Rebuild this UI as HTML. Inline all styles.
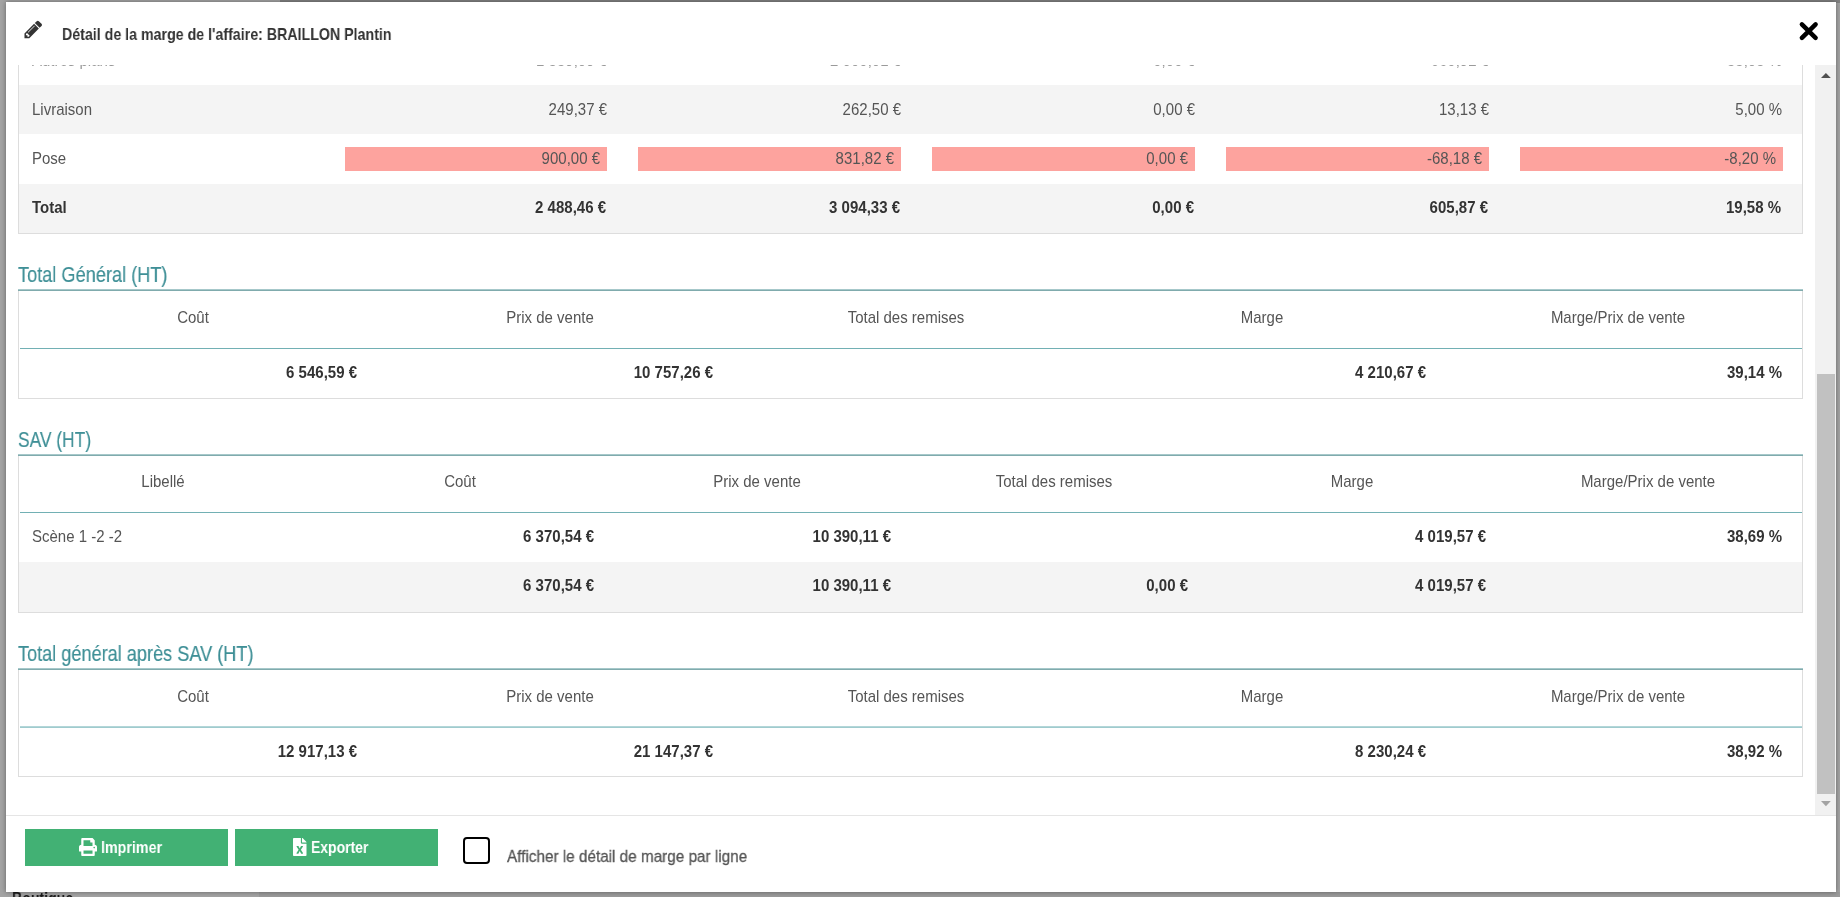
<!DOCTYPE html>
<html><head><meta charset="utf-8"><title>Détail de la marge</title>
<style>
html,body{margin:0;padding:0;}
body{width:1840px;height:897px;overflow:hidden;position:relative;background:#a4a4a4;font-family:'Liberation Sans',sans-serif;}
.t{position:absolute;white-space:nowrap;will-change:transform;}
.r{position:absolute;}
#modal{position:absolute;left:6px;top:2px;width:1830px;height:890px;background:#fff;box-shadow:0 0 5px rgba(0,0,0,.4);overflow:hidden;}
#page{position:absolute;left:-6px;top:-2px;width:1840px;height:897px;}
#scroll{position:absolute;left:0;top:65px;width:1840px;height:750px;overflow:hidden;}
#sc{position:absolute;left:0;top:-65px;width:1840px;height:897px;}
</style></head><body>

<div class="r" style="left:280px;top:0px;width:1560px;height:3px;background:#828282;"></div>
<div class="r" style="left:259px;top:892px;width:1581px;height:5px;background:#9b9b9b;"></div>
<div class="t" style="left:12px;top:889px;font:bold 17px/20px 'Liberation Sans',sans-serif;color:#1a1a1a;transform:scaleX(0.83);transform-origin:left top;">Boutique</div>
<div id="modal"><div id="page">
<svg style="position:absolute;left:22.5px;top:19.3px" width="20.7" height="20.7" viewBox="0 0 1792 1792"><path fill="#333" d="M491 1536l91-91-235-235-91 91v107h128v128h107zm523-928q0-22-22-22-10 0-17 7l-542 542q-7 7-7 17 0 22 22 22 10 0 17-7l542-542q7-7 7-17zm-54-192l416 416-832 832h-416v-416zm683 96q0 53-37 90l-166 166-416-416 166-165q36-38 90-38 53 0 91 38l235 234q37 39 37 91z"/></svg>
<div class="t" style="left:62px;top:23px;font-size:17px;line-height:23px;font-weight:bold;color:#333;transform:scaleX(0.836);transform-origin:left top;">Détail de la marge de l'affaire: BRAILLON Plantin</div>
<svg style="position:absolute;left:1790px;top:15px" width="36" height="34" viewBox="1790 15 36 34"><path d="M1801.9 24.3 L1815.6 37.9 M1815.6 24.3 L1801.9 37.9" stroke="#000" stroke-width="4.5" stroke-linecap="round" fill="none"/></svg>
<div id="scroll"><div id="sc">
<div class="r" style="left:19px;top:85px;width:1783px;height:49px;background:#f4f4f4;"></div>
<div class="r" style="left:19px;top:184px;width:1783px;height:49px;background:#f4f4f4;"></div>
<div class="r" style="left:18px;top:0px;width:1px;height:234px;background:#dddddd;"></div>
<div class="r" style="left:1802px;top:0px;width:1px;height:234px;background:#dddddd;"></div>
<div class="r" style="left:18px;top:233px;width:1785px;height:1px;background:#dddddd;"></div>
<div class="t" style="left:32px;top:51px;font-size:15px;line-height:20px;font-weight:normal;color:#9a9a9a;transform:scaleY(1.08);transform-origin:0 15px;">Autres plans</div>
<div class="t" style="left:7px;width:600px;text-align:right;top:51px;font-size:15px;line-height:20px;font-weight:normal;color:#9a9a9a;transform:scaleY(1.08);transform-origin:0 15px;">1 339,09 €</div>
<div class="t" style="left:301px;width:600px;text-align:right;top:51px;font-size:15px;line-height:20px;font-weight:normal;color:#9a9a9a;transform:scaleY(1.08);transform-origin:0 15px;">2 000,01 €</div>
<div class="t" style="left:595px;width:600px;text-align:right;top:51px;font-size:15px;line-height:20px;font-weight:normal;color:#9a9a9a;transform:scaleY(1.08);transform-origin:0 15px;">0,00 €</div>
<div class="t" style="left:889px;width:600px;text-align:right;top:51px;font-size:15px;line-height:20px;font-weight:normal;color:#9a9a9a;transform:scaleY(1.08);transform-origin:0 15px;">660,92 €</div>
<div class="t" style="left:1182px;width:600px;text-align:right;top:51px;font-size:15px;line-height:20px;font-weight:normal;color:#9a9a9a;transform:scaleY(1.08);transform-origin:0 15px;">33,05 %</div>
<div class="t" style="left:32px;top:100px;font-size:15px;line-height:20px;font-weight:normal;color:#555;transform:scaleY(1.08);transform-origin:0 15px;">Livraison</div>
<div class="t" style="left:7px;width:600px;text-align:right;top:100px;font-size:15px;line-height:20px;font-weight:normal;color:#555;transform:scaleY(1.08);transform-origin:0 15px;">249,37 €</div>
<div class="t" style="left:301px;width:600px;text-align:right;top:100px;font-size:15px;line-height:20px;font-weight:normal;color:#555;transform:scaleY(1.08);transform-origin:0 15px;">262,50 €</div>
<div class="t" style="left:595px;width:600px;text-align:right;top:100px;font-size:15px;line-height:20px;font-weight:normal;color:#555;transform:scaleY(1.08);transform-origin:0 15px;">0,00 €</div>
<div class="t" style="left:889px;width:600px;text-align:right;top:100px;font-size:15px;line-height:20px;font-weight:normal;color:#555;transform:scaleY(1.08);transform-origin:0 15px;">13,13 €</div>
<div class="t" style="left:1182px;width:600px;text-align:right;top:100px;font-size:15px;line-height:20px;font-weight:normal;color:#555;transform:scaleY(1.08);transform-origin:0 15px;">5,00 %</div>
<div class="t" style="left:32px;top:149px;font-size:15px;line-height:20px;font-weight:normal;color:#555;transform:scaleY(1.08);transform-origin:0 15px;">Pose</div>
<div class="r" style="left:345px;top:147px;width:262px;height:24px;background:#fda39e;"></div>
<div class="t" style="left:0px;width:600px;text-align:right;top:149px;font-size:15px;line-height:20px;font-weight:normal;color:#555;transform:scaleY(1.08);transform-origin:0 15px;">900,00 €</div>
<div class="r" style="left:638px;top:147px;width:263px;height:24px;background:#fda39e;"></div>
<div class="t" style="left:294px;width:600px;text-align:right;top:149px;font-size:15px;line-height:20px;font-weight:normal;color:#555;transform:scaleY(1.08);transform-origin:0 15px;">831,82 €</div>
<div class="r" style="left:932px;top:147px;width:263px;height:24px;background:#fda39e;"></div>
<div class="t" style="left:588px;width:600px;text-align:right;top:149px;font-size:15px;line-height:20px;font-weight:normal;color:#555;transform:scaleY(1.08);transform-origin:0 15px;">0,00 €</div>
<div class="r" style="left:1226px;top:147px;width:263px;height:24px;background:#fda39e;"></div>
<div class="t" style="left:882px;width:600px;text-align:right;top:149px;font-size:15px;line-height:20px;font-weight:normal;color:#555;transform:scaleY(1.08);transform-origin:0 15px;">-68,18 €</div>
<div class="r" style="left:1520px;top:147px;width:263px;height:24px;background:#fda39e;"></div>
<div class="t" style="left:1176px;width:600px;text-align:right;top:149px;font-size:15px;line-height:20px;font-weight:normal;color:#555;transform:scaleY(1.08);transform-origin:0 15px;">-8,20 %</div>
<div class="t" style="left:32px;top:198px;font-size:15px;line-height:20px;font-weight:bold;color:#333;transform:scaleY(1.08);transform-origin:0 15px;">Total</div>
<div class="t" style="left:6px;width:600px;text-align:right;top:198px;font-size:15px;line-height:20px;font-weight:bold;color:#333;transform:scaleY(1.08);transform-origin:0 15px;">2 488,46 €</div>
<div class="t" style="left:300px;width:600px;text-align:right;top:198px;font-size:15px;line-height:20px;font-weight:bold;color:#333;transform:scaleY(1.08);transform-origin:0 15px;">3 094,33 €</div>
<div class="t" style="left:594px;width:600px;text-align:right;top:198px;font-size:15px;line-height:20px;font-weight:bold;color:#333;transform:scaleY(1.08);transform-origin:0 15px;">0,00 €</div>
<div class="t" style="left:888px;width:600px;text-align:right;top:198px;font-size:15px;line-height:20px;font-weight:bold;color:#333;transform:scaleY(1.08);transform-origin:0 15px;">605,87 €</div>
<div class="t" style="left:1181px;width:600px;text-align:right;top:198px;font-size:15px;line-height:20px;font-weight:bold;color:#333;transform:scaleY(1.08);transform-origin:0 15px;">19,58 %</div>
<div class="t" style="left:18px;top:260px;font-size:22px;line-height:29px;font-weight:normal;color:#3e8f96;transform:scaleX(0.826);transform-origin:left top;-webkit-text-stroke:0.2px #3e8f96;">Total Général (HT)</div>
<div class="r" style="left:18px;top:289px;width:1785px;height:1px;background:#a6c8ca;"></div>
<div class="r" style="left:18px;top:290px;width:1785px;height:1px;background:#80abad;"></div>
<div class="r" style="left:18px;top:291px;width:1px;height:108px;background:#dddddd;"></div>
<div class="r" style="left:1802px;top:291px;width:1px;height:108px;background:#dddddd;"></div>
<div class="r" style="left:18px;top:398px;width:1785px;height:1px;background:#dddddd;"></div>
<div class="r" style="left:20px;top:348px;width:1782px;height:1px;background:#72b0b4;"></div>
<div class="t" style="left:-106.80000000000001px;width:600px;text-align:center;top:308px;font-size:15px;line-height:20px;font-weight:normal;color:#555;transform:scaleY(1.08);transform-origin:0 15px;">Coût</div>
<div class="t" style="left:249.5px;width:600px;text-align:center;top:308px;font-size:15px;line-height:20px;font-weight:normal;color:#555;transform:scaleY(1.08);transform-origin:0 15px;">Prix de vente</div>
<div class="t" style="left:606.0px;width:600px;text-align:center;top:308px;font-size:15px;line-height:20px;font-weight:normal;color:#555;transform:scaleY(1.08);transform-origin:0 15px;">Total des remises</div>
<div class="t" style="left:962.0px;width:600px;text-align:center;top:308px;font-size:15px;line-height:20px;font-weight:normal;color:#555;transform:scaleY(1.08);transform-origin:0 15px;">Marge</div>
<div class="t" style="left:1318.0px;width:600px;text-align:center;top:308px;font-size:15px;line-height:20px;font-weight:normal;color:#555;transform:scaleY(1.08);transform-origin:0 15px;">Marge/Prix de vente</div>
<div class="t" style="left:-243px;width:600px;text-align:right;top:363px;font-size:15px;line-height:20px;font-weight:bold;color:#333;transform:scaleY(1.08);transform-origin:0 15px;">6 546,59 €</div>
<div class="t" style="left:113px;width:600px;text-align:right;top:363px;font-size:15px;line-height:20px;font-weight:bold;color:#333;transform:scaleY(1.08);transform-origin:0 15px;">10 757,26 €</div>
<div class="t" style="left:826px;width:600px;text-align:right;top:363px;font-size:15px;line-height:20px;font-weight:bold;color:#333;transform:scaleY(1.08);transform-origin:0 15px;">4 210,67 €</div>
<div class="t" style="left:1182px;width:600px;text-align:right;top:363px;font-size:15px;line-height:20px;font-weight:bold;color:#333;transform:scaleY(1.08);transform-origin:0 15px;">39,14 %</div>
<div class="t" style="left:18px;top:425px;font-size:22px;line-height:29px;font-weight:normal;color:#3e8f96;transform:scaleX(0.79);transform-origin:left top;-webkit-text-stroke:0.2px #3e8f96;">SAV (HT)</div>
<div class="r" style="left:18px;top:454px;width:1785px;height:1px;background:#a6c8ca;"></div>
<div class="r" style="left:18px;top:455px;width:1785px;height:1px;background:#80abad;"></div>
<div class="r" style="left:18px;top:456px;width:1px;height:157px;background:#dddddd;"></div>
<div class="r" style="left:1802px;top:456px;width:1px;height:157px;background:#dddddd;"></div>
<div class="r" style="left:18px;top:612px;width:1785px;height:1px;background:#dddddd;"></div>
<div class="r" style="left:20px;top:512px;width:1782px;height:1px;background:#72b0b4;"></div>
<div class="t" style="left:-136.75px;width:600px;text-align:center;top:472px;font-size:15px;line-height:20px;font-weight:normal;color:#555;transform:scaleY(1.08);transform-origin:0 15px;">Libellé</div>
<div class="t" style="left:160.25px;width:600px;text-align:center;top:472px;font-size:15px;line-height:20px;font-weight:normal;color:#555;transform:scaleY(1.08);transform-origin:0 15px;">Coût</div>
<div class="t" style="left:457.25px;width:600px;text-align:center;top:472px;font-size:15px;line-height:20px;font-weight:normal;color:#555;transform:scaleY(1.08);transform-origin:0 15px;">Prix de vente</div>
<div class="t" style="left:754.3px;width:600px;text-align:center;top:472px;font-size:15px;line-height:20px;font-weight:normal;color:#555;transform:scaleY(1.08);transform-origin:0 15px;">Total des remises</div>
<div class="t" style="left:1051.5px;width:600px;text-align:center;top:472px;font-size:15px;line-height:20px;font-weight:normal;color:#555;transform:scaleY(1.08);transform-origin:0 15px;">Marge</div>
<div class="t" style="left:1348.4px;width:600px;text-align:center;top:472px;font-size:15px;line-height:20px;font-weight:normal;color:#555;transform:scaleY(1.08);transform-origin:0 15px;">Marge/Prix de vente</div>
<div class="t" style="left:32px;top:527px;font-size:15px;line-height:20px;font-weight:normal;color:#555;transform:scaleY(1.08);transform-origin:0 15px;">Scène 1 -2 -2</div>
<div class="t" style="left:-6px;width:600px;text-align:right;top:527px;font-size:15px;line-height:20px;font-weight:bold;color:#333;transform:scaleY(1.08);transform-origin:0 15px;">6 370,54 €</div>
<div class="t" style="left:291px;width:600px;text-align:right;top:527px;font-size:15px;line-height:20px;font-weight:bold;color:#333;transform:scaleY(1.08);transform-origin:0 15px;">10 390,11 €</div>
<div class="t" style="left:885.5px;width:600px;text-align:right;top:527px;font-size:15px;line-height:20px;font-weight:bold;color:#333;transform:scaleY(1.08);transform-origin:0 15px;">4 019,57 €</div>
<div class="t" style="left:1182px;width:600px;text-align:right;top:527px;font-size:15px;line-height:20px;font-weight:bold;color:#333;transform:scaleY(1.08);transform-origin:0 15px;">38,69 %</div>
<div class="r" style="left:19px;top:562px;width:1783px;height:50px;background:#f4f4f4;"></div>
<div class="t" style="left:-6px;width:600px;text-align:right;top:576px;font-size:15px;line-height:20px;font-weight:bold;color:#333;transform:scaleY(1.08);transform-origin:0 15px;">6 370,54 €</div>
<div class="t" style="left:291px;width:600px;text-align:right;top:576px;font-size:15px;line-height:20px;font-weight:bold;color:#333;transform:scaleY(1.08);transform-origin:0 15px;">10 390,11 €</div>
<div class="t" style="left:588px;width:600px;text-align:right;top:576px;font-size:15px;line-height:20px;font-weight:bold;color:#333;transform:scaleY(1.08);transform-origin:0 15px;">0,00 €</div>
<div class="t" style="left:885.5px;width:600px;text-align:right;top:576px;font-size:15px;line-height:20px;font-weight:bold;color:#333;transform:scaleY(1.08);transform-origin:0 15px;">4 019,57 €</div>
<div class="t" style="left:18px;top:639px;font-size:22px;line-height:29px;font-weight:normal;color:#3e8f96;transform:scaleX(0.824);transform-origin:left top;-webkit-text-stroke:0.2px #3e8f96;">Total général après SAV (HT)</div>
<div class="r" style="left:18px;top:668px;width:1785px;height:1px;background:#a6c8ca;"></div>
<div class="r" style="left:18px;top:669px;width:1785px;height:1px;background:#80abad;"></div>
<div class="r" style="left:18px;top:670px;width:1px;height:107px;background:#dddddd;"></div>
<div class="r" style="left:1802px;top:670px;width:1px;height:107px;background:#dddddd;"></div>
<div class="r" style="left:18px;top:776px;width:1785px;height:1px;background:#dddddd;"></div>
<div class="r" style="left:20px;top:726px;width:1782px;height:1px;background:#b3d6d8;"></div>
<div class="r" style="left:20px;top:727px;width:1782px;height:1px;background:#9fcbce;"></div>
<div class="t" style="left:-106.80000000000001px;width:600px;text-align:center;top:687px;font-size:15px;line-height:20px;font-weight:normal;color:#555;transform:scaleY(1.08);transform-origin:0 15px;">Coût</div>
<div class="t" style="left:249.5px;width:600px;text-align:center;top:687px;font-size:15px;line-height:20px;font-weight:normal;color:#555;transform:scaleY(1.08);transform-origin:0 15px;">Prix de vente</div>
<div class="t" style="left:606.0px;width:600px;text-align:center;top:687px;font-size:15px;line-height:20px;font-weight:normal;color:#555;transform:scaleY(1.08);transform-origin:0 15px;">Total des remises</div>
<div class="t" style="left:962.0px;width:600px;text-align:center;top:687px;font-size:15px;line-height:20px;font-weight:normal;color:#555;transform:scaleY(1.08);transform-origin:0 15px;">Marge</div>
<div class="t" style="left:1318.0px;width:600px;text-align:center;top:687px;font-size:15px;line-height:20px;font-weight:normal;color:#555;transform:scaleY(1.08);transform-origin:0 15px;">Marge/Prix de vente</div>
<div class="t" style="left:-243px;width:600px;text-align:right;top:742px;font-size:15px;line-height:20px;font-weight:bold;color:#333;transform:scaleY(1.08);transform-origin:0 15px;">12 917,13 €</div>
<div class="t" style="left:113px;width:600px;text-align:right;top:742px;font-size:15px;line-height:20px;font-weight:bold;color:#333;transform:scaleY(1.08);transform-origin:0 15px;">21 147,37 €</div>
<div class="t" style="left:826px;width:600px;text-align:right;top:742px;font-size:15px;line-height:20px;font-weight:bold;color:#333;transform:scaleY(1.08);transform-origin:0 15px;">8 230,24 €</div>
<div class="t" style="left:1182px;width:600px;text-align:right;top:742px;font-size:15px;line-height:20px;font-weight:bold;color:#333;transform:scaleY(1.08);transform-origin:0 15px;">38,92 %</div>
</div></div>
<div class="r" style="left:1815px;top:65px;width:21px;height:750px;background:#f1f1f1;"></div>
<div class="r" style="left:1817px;top:374px;width:18px;height:420px;background:#c1c1c1;"></div>
<svg style="position:absolute;left:1815px;top:65px" width="21" height="20"><path d="M6 13 L15.8 13 L10.9 8 Z" fill="#505050"/></svg>
<svg style="position:absolute;left:1815px;top:795px" width="21" height="20"><path d="M6 6 L15.8 6 L10.9 11.2 Z" fill="#a3a3a3"/></svg>
<div class="r" style="left:6px;top:815px;width:1830px;height:1px;background:#e5e5e5;"></div>
<div class="r" style="left:25px;top:829px;width:203px;height:37px;background:#42b174;"></div>
<div class="r" style="left:235px;top:829px;width:203px;height:37px;background:#42b174;"></div>
<svg style="position:absolute;left:79px;top:837.5px" width="18" height="18" viewBox="0 0 512 512"><path fill="#fff" d="M448 192V77.25c0-8.49-3.37-16.62-9.37-22.63L393.37 9.37c-6-6-14.14-9.37-22.63-9.37H96C78.330 0 64 14.33 64 32v160c-35.35 0-64 28.65-64 64v112c0 8.84 7.16 16 16 16h48v96c0 17.67 14.33 32 32 32h320c17.67 0 32-14.33 32-32v-96h48c8.84 0 16-7.160 16-16V256c0-35.35-28.65-64-64-64zm-64 256H128v-96h256v96zm0-224H128V64h192v48c0 8.84 7.16 16 16 16h48v96zm48 72c-13.25 0-24-10.75-24-24 0-13.26 10.75-24 24-24s24 10.74 24 24c0 13.25-10.75 24-24 24z"/></svg>
<div class="t" style="left:101px;top:836px;font-size:17px;line-height:23px;font-weight:bold;color:#fff;transform:scaleX(0.839);transform-origin:left top;">Imprimer</div>
<svg style="position:absolute;left:293px;top:837.5px" width="13.5" height="18" viewBox="0 0 384 512"><path fill="#fff" d="M224 136V0H24C10.7 0 0 10.7 0 24v464c0 13.3 10.7 24 24 24h336c13.3 0 24-10.7 24-24V160H248c-13.2 0-24-10.8-24-24zm60.1 106.5L224 336l60.1 93.5c5.1 8-.6 18.5-10.1 18.5h-34.9c-4.4 0-8.5-2.4-10.6-6.3C208.9 405.5 192 373 192 373c-6.4 14.8-10 20-36.6 68.8-2.1 3.9-6.1 6.3-10.5 6.3H110c-9.5 0-15.2-10.5-10.1-18.5l60.3-93.5-60.3-93.5c-5.2-8 .6-18.5 10.1-18.5h34.8c4.4 0 8.5 2.4 10.6 6.3 26.1 48.8 20 33.6 36.6 68.5 0 0 6.1-11.7 36.6-68.5 2.1-3.9 6.2-6.3 10.6-6.3H274c9.5-.1 15.2 10.4 10.1 18.4zM384 121.9v6.1H256V0h6.1c6.4 0 12.5 2.5 17 7l97.9 98c4.5 4.5 7 10.6 7 16.9z"/></svg>
<div class="t" style="left:311px;top:836px;font-size:17px;line-height:23px;font-weight:bold;color:#fff;transform:scaleX(0.821);transform-origin:left top;">Exporter</div>
<div class="r" style="left:463px;top:837px;width:27px;height:27px;box-sizing:border-box;border:2.6px solid #000;border-radius:4px;"></div>
<div class="t" style="left:507px;top:845px;font-size:17px;line-height:23px;font-weight:normal;color:#555;transform:scaleX(0.899);transform-origin:left top;-webkit-text-stroke:0.3px #555;">Afficher le détail de marge par ligne</div>
</div></div>
</body></html>
